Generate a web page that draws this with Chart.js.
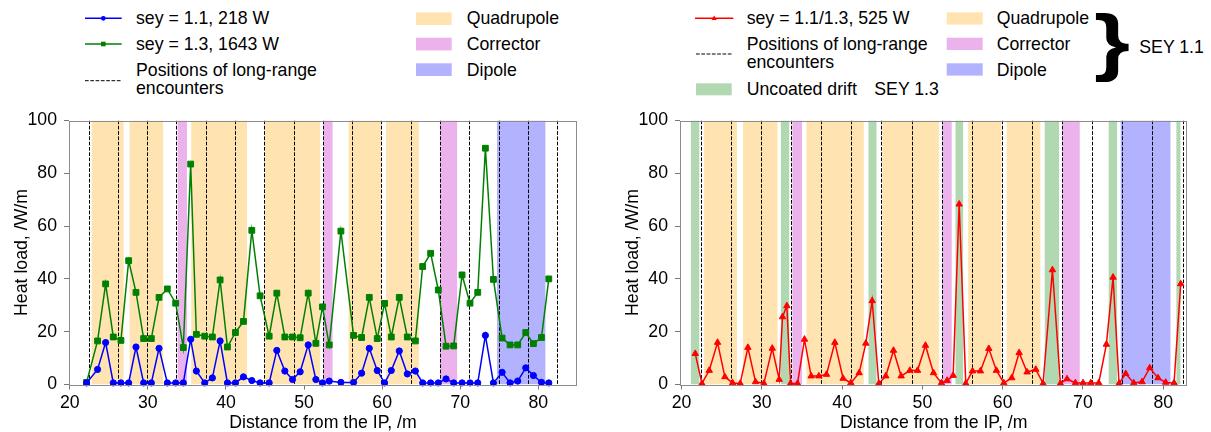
<!DOCTYPE html>
<html><head><meta charset="utf-8">
<script src="https://cdn.jsdelivr.net/npm/chart.js@4.4.1/dist/chart.umd.min.js"></script>
<style>
html,body{margin:0;padding:0;background:#fff;}
body{width:1211px;height:432px;position:relative;overflow:hidden;font-family:"Liberation Sans",Arial,sans-serif;font-size:17.7px;color:#000;}
canvas.c{position:absolute;top:100px;}
.t{position:absolute;white-space:nowrap;line-height:18.3px;}
#brace{position:absolute;left:1094px;top:5px;font-size:74px;line-height:73px;font-weight:bold;transform:scaleX(1.25);transform-origin:left top;}
svg#lg{position:absolute;left:0;top:0;}
</style></head>
<body>
<svg id="lg" width="1211" height="100"></svg>
<div class="t" style="left:136px;top:9.35px">sey = 1.1, 218 W</div>
<div class="t" style="left:136px;top:35px">sey = 1.3, 1643 W</div>
<div class="t" style="left:136px;top:61px">Positions of long-range<br>encounters</div>
<div class="t" style="left:466.7px;top:9.35px">Quadrupole</div>
<div class="t" style="left:466.7px;top:35px">Corrector</div>
<div class="t" style="left:466.7px;top:61px">Dipole</div>

<div class="t" style="left:746.7px;top:9.35px">sey = 1.1/1.3, 525 W</div>
<div class="t" style="left:746.7px;top:35px">Positions of long-range<br>encounters</div>
<div class="t" style="left:746.7px;top:80.35px">Uncoated drift</div>
<div class="t" style="left:874.3px;top:80.35px">SEY 1.3</div>
<div class="t" style="left:996.7px;top:9.35px">Quadrupole</div>
<div class="t" style="left:996.7px;top:35px">Corrector</div>
<div class="t" style="left:996.7px;top:60.5px">Dipole</div>
<div id="brace">}</div>
<div class="t" style="left:1139.3px;top:37.75px">SEY 1.1</div>

<canvas class="c" id="c1" width="600" height="332" style="left:0px"></canvas>
<canvas class="c" id="c2" width="601" height="332" style="left:610px"></canvas>
<script>
// ---------- data ----------
const xTicks = [20, 30, 40, 50, 60, 70, 80];
const yTicks = [0, 20, 40, 60, 80, 100];

const xLeft = [22.15, 23.56, 24.59, 25.57, 26.55, 27.54, 28.48, 29.46, 30.44, 31.43,
  32.49, 33.56, 34.54, 35.48, 36.21, 37.28, 38.26, 39.25, 40.19, 41.21,
  42.24, 43.31, 44.37, 45.53, 46.51, 47.54, 48.52, 49.50, 50.53, 51.51,
  52.36, 53.22, 54.72, 56.34, 57.37, 58.35, 59.37, 60.31, 61.17, 62.19,
  63.22, 64.25, 65.19, 66.21, 67.19, 68.18, 69.16, 70.23, 71.25, 72.24,
  73.22, 74.25, 75.36, 76.38, 77.36, 78.39, 79.37, 80.40, 81.34];

const sey11 = [0.6, 5.7, 15.9, 0.6, 0.6, 0.6, 14.2, 0.6, 0.6, 13.7,
  0.6, 0.6, 0.6, 17.1, 5.1, 0.6, 2.5, 16.5, 0.6, 0.6,
  2.9, 1.5, 0.6, 0.6, 12.9, 5.1, 1.9, 4.8, 15.0, 1.9,
  0.6, 1.3, 0.8, 0.8, 4.3, 13.7, 5.3, 0.6, 5.3, 12.7,
  4.0, 5.1, 0.6, 0.6, 0.6, 2.1, 0.6, 0.6, 0.6, 0.6,
  18.6, 0.6, 4.6, 0.6, 1.3, 6.3, 3.4, 0.8, 0.6];

const sey13 = [0.8, 16.5, 38.1, 18.0, 16.7, 46.9, 34.9, 17.4, 17.4, 33.0,
  36.2, 30.8, 14.0, 83.5, 19.0, 18.3, 18.0, 39.6, 14.2, 19.7,
  23.9, 58.4, 33.6, 18.3, 34.6, 18.0, 18.0, 17.7, 34.6, 15.6,
  29.4, 15.0, 58.1, 18.6, 17.8, 33.0, 17.4, 30.7, 18.0, 33.0,
  18.0, 16.5, 44.7, 49.7, 35.8, 14.5, 14.6, 41.5, 30.8, 34.9,
  89.5, 39.8, 17.6, 15.0, 15.0, 19.7, 15.5, 17.8, 40.0];

const xRight = [21.70, 22.53, 23.44, 24.48, 25.39, 26.35, 27.30, 28.26, 29.21, 30.25,
  31.29, 32.16, 32.57, 33.11, 33.57, 34.44, 35.31, 36.14, 37.10, 38.05,
  39.09, 40.12, 41.08, 42.12, 42.95, 43.74, 44.57, 45.44, 46.40, 47.35,
  48.43, 49.39, 50.38, 51.38, 52.37, 53.08, 53.83, 54.58, 55.40, 56.24,
  57.23, 58.27, 59.22, 60.14, 61.13, 62.05, 63.04, 64.12, 65.03, 66.20,
  67.19, 68.02, 69.06, 70.01, 70.97, 71.97, 72.92, 73.75, 74.50, 75.33,
  76.33, 77.36, 78.32, 79.35, 80.31, 81.35, 82.18];

const seyMixed = [11.7, 0.4, 5.3, 15.9, 2.9, 0.6, 0.4, 14.0, 1.0, 0.4,
  13.7, 1.9, 25.6, 29.8, 0.4, 0.4, 17.1, 3.2, 3.2, 3.8,
  15.9, 2.3, 0.6, 4.4, 15.6, 31.7, 0.4, 3.2, 12.9, 3.2,
  5.3, 5.3, 14.8, 4.4, 0.6, 1.5, 3.4, 68.3, 0.4, 5.1,
  5.1, 13.6, 5.3, 0.6, 2.5, 12.0, 4.7, 5.7, 0.4, 43.4,
  0.4, 2.1, 0.6, 0.6, 0.6, 0.6, 15.2, 40.6, 0.4, 4.1,
  0.6, 1.0, 6.3, 2.5, 0.8, 0.6, 38.1];

const lrEncounters = [22.4, 26.15, 29.9, 33.65, 37.4, 41.15, 44.9, 48.65, 52.4,
  56.15, 59.9, 63.65, 67.4, 71.15, 74.9, 78.65, 82.45];

const quadrupoles = [[22.8, 26.9], [27.65, 31.95], [35.55, 42.7], [45.0, 52.05], [55.7, 59.85], [60.5, 64.7]];
const correctors = [[33.8, 35.0], [52.5, 53.65], [67.45, 69.6]];
const dipoles = [[74.7, 80.9]];
const uncoatedDrifts = [[21.15, 22.2], [32.37, 33.4], [43.28, 44.28], [54.12, 55.07], [65.24, 67.02], [73.21, 74.25], [81.64, 82.14]];

// ---------- styles ----------
const C_QUAD = '#FFE4B2', C_CORR = '#EBB2EB', C_DIP = '#B2B2FF', C_DRIFT = '#B2D8B2';
const FONT = {family: "'Liberation Sans', Arial, sans-serif", size: 17.7};
const DASH = [3.7, 1.6];

// ---------- legend graphics ----------
(function(){
  const s = document.getElementById('lg');
  const ns = 'http://www.w3.org/2000/svg';
  function el(tag, attrs){ const e = document.createElementNS(ns, tag); for (const k in attrs) e.setAttribute(k, attrs[k]); s.appendChild(e); return e; }
  el('line', {x1:85, y1:18.3, x2:121.7, y2:18.3, stroke:'#0000ff', 'stroke-width':1.5});
  el('circle', {cx:103.3, cy:18.3, r:2.4, fill:'#0000ff'});
  el('line', {x1:85, y1:44, x2:121.7, y2:44, stroke:'#008000', 'stroke-width':1.5});
  el('rect', {x:101, y:41.7, width:4.6, height:4.6, fill:'#008000'});
  el('line', {x1:85, y1:80.7, x2:121.7, y2:80.7, stroke:'#000', 'stroke-width':1, 'stroke-dasharray':DASH.join(' ')});
  el('rect', {x:416, y:12.3, width:35.7, height:12.7, fill:C_QUAD});
  el('rect', {x:416, y:37.7, width:35.7, height:12.7, fill:C_CORR});
  el('rect', {x:416, y:63.3, width:35.7, height:12.7, fill:C_DIP});
  el('line', {x1:695, y1:18.3, x2:733.3, y2:18.3, stroke:'#ff0000', 'stroke-width':1.5});
  el('polygon', {points:'714.2,15.6 711.6,20.1 716.8,20.1', fill:'#ff0000'});
  el('line', {x1:696, y1:54, x2:732, y2:54, stroke:'#000', 'stroke-width':1, 'stroke-dasharray':DASH.join(' ')});
  el('rect', {x:696, y:83.3, width:35.7, height:12, fill:C_DRIFT});
  el('rect', {x:946.7, y:12.3, width:36, height:12.3, fill:C_QUAD});
  el('rect', {x:946.7, y:37.7, width:36, height:12.3, fill:C_CORR});
  el('rect', {x:946.7, y:63.3, width:36, height:12.3, fill:C_DIP});
})();

// ---------- plugin: bands, LR lines, frame ----------
const regionPlugin = {
  id: 'regions',
  beforeDatasetsDraw(chart, args, opts) {
    const {ctx, chartArea: a, scales: {x}} = chart;
    ctx.save();
    ctx.beginPath(); ctx.rect(a.left, a.top, a.right - a.left, a.bottom - a.top); ctx.clip();
    for (const b of opts.bands) {
      ctx.fillStyle = b.color;
      for (const [s, e] of b.spans) {
        const x0 = x.getPixelForValue(s), x1 = x.getPixelForValue(e);
        ctx.fillRect(x0, a.top, x1 - x0, a.bottom - a.top);
      }
    }
    ctx.strokeStyle = '#000'; ctx.lineWidth = 1; ctx.setLineDash(DASH);
    for (const v of opts.lines) {
      const px = Math.round(x.getPixelForValue(v)) + 0.5;
      ctx.beginPath(); ctx.moveTo(px, a.top); ctx.lineTo(px, a.bottom); ctx.stroke();
    }
    ctx.restore();
  },
  afterDraw(chart) {
    const {ctx, chartArea: a} = chart;
    ctx.save();
    ctx.strokeStyle = '#8c8c8c'; ctx.lineWidth = 1;
    ctx.strokeRect(Math.round(a.left) + 0.5, Math.round(a.top) + 0.5, Math.round(a.right - a.left) - 1, Math.round(a.bottom - a.top));
    ctx.restore();
  }
};

function makeChart(id, datasets, cfg) {
  return new Chart(document.getElementById(id), {
    type: 'scatter',
    data: {datasets},
    plugins: [regionPlugin],
    options: {
      responsive: false, animation: false, devicePixelRatio: 1,
      layout: {padding: {top: 20.5, right: cfg.padRight, left: 0, bottom: 0}},
      plugins: {legend: {display: false}, tooltip: {enabled: false},
        regions: {bands: cfg.bands, lines: lrEncounters}},
      scales: {
        x: {
          type: 'linear', min: cfg.xmin, max: cfg.xmax,
          afterBuildTicks: s => { s.ticks = xTicks.map(v => ({value: v})); },
          afterFit: s => { s.height = 47.5; },
          grid: {drawOnChartArea: false, drawTicks: true, tickLength: 5, color: '#777'},
          border: {display: false},
          ticks: {color: '#000', font: FONT, padding: 3, maxRotation: 0, autoSkip: false},
          title: {display: true, text: 'Distance from the IP, /m', color: '#000',
                  font: {...FONT, lineHeight: 1}, padding: {top: 0, bottom: 0}}
        },
        y: {
          type: 'linear', min: 0, max: 100,
          afterBuildTicks: s => { s.ticks = yTicks.map(v => ({value: v})); },
          afterFit: s => { s.width = cfg.yWidth; },
          grid: {drawOnChartArea: false, drawTicks: true, tickLength: 5, color: '#777'},
          border: {display: false},
          ticks: {color: '#000', font: FONT, padding: 7},
          title: {display: true, text: 'Heat load, /W/m', color: '#000', font: FONT,
                  padding: {top: cfg.yTitlePad, bottom: 0}}
        }
      }
    }
  });
}

function series(xs, ys, color, style, radius) {
  return {
    data: xs.map((x, i) => ({x, y: ys[i]})),
    showLine: true, borderColor: color, backgroundColor: color, borderWidth: 1.5,
    pointStyle: style, pointRadius: radius, pointBorderWidth: 1, pointHoverRadius: radius,
    tension: 0, clip: 8
  };
}

makeChart('c1', [
  series(xLeft, sey11, '#0000ff', 'circle', 3.1),
  series(xLeft, sey13, '#008000', 'rect', 4.1)
], {
  xmin: 19.9, xmax: 84.95, padRight: 23, yWidth: 69, yTitlePad: 11,
  bands: [{color: C_QUAD, spans: quadrupoles}, {color: C_CORR, spans: correctors}, {color: C_DIP, spans: dipoles}]
});

makeChart('c2', [
  series(xRight, seyMixed, '#ff0000', 'triangle', 3.7)
], {
  xmin: 19.8, xmax: 83.0, padRight: 23.7, yWidth: 70, yTitlePad: 12,
  bands: [{color: C_QUAD, spans: quadrupoles}, {color: C_CORR, spans: correctors}, {color: C_DIP, spans: dipoles}, {color: C_DRIFT, spans: uncoatedDrifts}]
});
</script>
</body></html>
